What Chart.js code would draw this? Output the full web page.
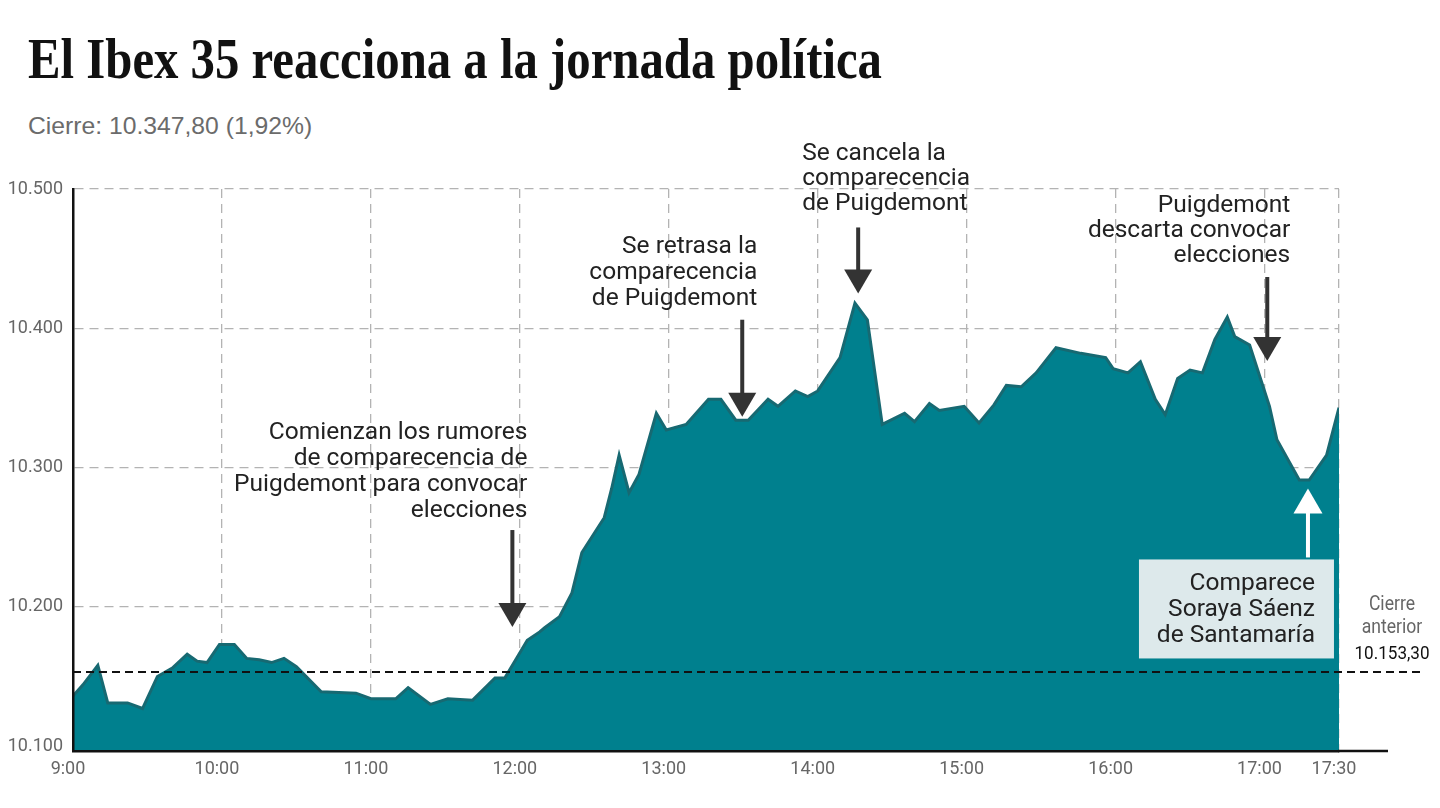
<!DOCTYPE html>
<html>
<head>
<meta charset="utf-8">
<script src="https://cdn.jsdelivr.net/npm/chart.js@4.4.1/dist/chart.umd.min.js"></script>
<style>
html, body { margin: 0; padding: 0; background: #fff; }
body { width: 1440px; height: 808px; position: relative; overflow: hidden; }
#chart { position: absolute; left: 0; top: 0; }
.title { position: absolute; left: 28px; top: 30px; font-family: "Liberation Serif", serif; font-weight: bold;
  font-size: 57px; line-height: 57px; color: #111; white-space: nowrap; transform-origin: 0 0; }
.sub { position: absolute; left: 28px; top: 114px; font-family: "Liberation Sans", Arial, sans-serif;
  font-size: 24px; line-height: 24px; color: #6b6b6b; white-space: nowrap; transform-origin: 0 0; }
</style>
</head>
<body>
<div class="title" id="title">El Ibex 35 reacciona a la jornada política</div>
<div class="sub" id="sub">Cierre: 10.347,80 (1,92%)</div>
<canvas id="chart" width="1440" height="808"></canvas>
<script>
// Ibex 35 intraday (minutes since midnight, index points)
const times = [540, 544, 550, 554, 562, 568, 574, 580, 586, 590, 594, 599, 605, 610, 615, 620, 625, 630, 640, 654,
  660, 670, 675, 684, 691, 701, 710, 714, 719, 723, 728, 730, 736, 741, 745, 754, 757, 760, 764, 768,
  775, 779, 787, 796, 801, 807, 812, 820, 824, 831, 836, 840, 849, 855, 860, 866, 875, 879, 885, 889,
  899, 905, 911, 916, 922, 928, 936, 946, 956, 959, 965, 970, 976, 980, 985, 990, 995, 1000, 1005, 1008,
  1014, 1022, 1025, 1034, 1038, 1045, 1050];
const values = [10136, 10144, 10158, 10131, 10131, 10127, 10150, 10156, 10166, 10161, 10160, 10173, 10173, 10163, 10162, 10160, 10163, 10157, 10139, 10138,
  10134, 10134, 10142, 10130, 10134, 10133, 10149, 10149, 10164, 10176, 10182, 10185, 10193, 10210, 10239, 10264, 10285, 10309, 10282, 10295,
  10339, 10327, 10331, 10349, 10349, 10334, 10334, 10349, 10344, 10355, 10351, 10355, 10379, 10418, 10406, 10331, 10339, 10333, 10346, 10341,
  10344, 10332, 10345, 10359, 10358, 10368, 10386, 10382, 10379, 10371, 10368, 10376, 10349, 10338, 10364, 10370, 10368, 10392, 10408, 10394,
  10388, 10344, 10320, 10291, 10291, 10309, 10343];

const prevClose = 10153.3;

const xTicks = [540, 600, 660, 720, 780, 840, 900, 960, 1020, 1050];
const xTickLabels = ['9:00', '10:00', '11:00', '12:00', '13:00', '14:00', '15:00', '16:00', '17:00', '17:30'];
const yTicks = [10100, 10200, 10300, 10400, 10500];
const yTickLabels = ['10.100', '10.200', '10.300', '10.400', '10.500'];

// events: arrow tip at (time, value)
const events = [
  { t: 717, v: 10185.5, dir: 'down', len: 97, align: 'right', dx: 15, dy: [-188, -162, -136, -110],
    lines: ['Comienzan los rumores', 'de comparecencia de', 'Puigdemont para convocar', 'elecciones'] },
  { t: 809.6, v: 10336.5, dir: 'down', len: 97, align: 'right', dx: 15, dy: [-164, -138, -112],
    lines: ['Se retrasa la', 'comparecencia', 'de Puigdemont'] },
  { t: 856.3, v: 10425, dir: 'down', len: 66, align: 'left', dx: -56, dy: [-133, -108, -83],
    lines: ['Se cancela la', 'comparecencia', 'de Puigdemont'] },
  { t: 1021.1, v: 10376.5, dir: 'down', len: 84, align: 'right', dx: 23, dy: [-149, -124, -99],
    lines: ['Puigdemont', 'descarta convocar', 'elecciones'] },
  { t: 1037.5, v: 10285, dir: 'up', len: 69, align: 'right', dx: 7, dy: [102, 128, 154], box: true,
    lines: ['Comparece', 'Soraya Sáenz', 'de Santamaría'] }
];

function fit(el, w) {
  el.style.transform = 'scaleX(' + (w / el.offsetWidth) + ')';
}
fit(document.getElementById('title'), 854);
fit(document.getElementById('sub'), 284);

function squeezeText(c, str, x, y, align, font, color, sx) {
  c.save();
  c.translate(x, y);
  c.scale(sx, 1);
  c.font = font;
  c.fillStyle = color;
  c.textAlign = align;
  c.textBaseline = 'alphabetic';
  c.fillText(str, 0, 0);
  c.restore();
}

const overlay = {
  id: 'overlay',
  afterDraw(chart) {
    const c = chart.ctx, xs = chart.scales.x, ys = chart.scales.y, area = chart.chartArea;
    c.save();

    // x axis runs a bit past the last tick
    c.strokeStyle = '#111';
    c.lineWidth = 2.5;
    c.beginPath();
    c.moveTo(area.right - 1, area.bottom);
    c.lineTo(area.right + 49, area.bottom);
    c.stroke();

    // previous close
    const yc = ys.getPixelForValue(prevClose);
    c.setLineDash([8, 5]);
    c.lineWidth = 2;
    c.beginPath();
    c.moveTo(area.left, yc);
    c.lineTo(area.right + 86, yc);
    c.stroke();
    c.setLineDash([]);
    squeezeText(c, 'Cierre', area.right + 53, yc - 62, 'center', '20px Roboto', '#666', 0.88);
    squeezeText(c, 'anterior', area.right + 53, yc - 39, 'center', '20px Roboto', '#666', 0.88);
    squeezeText(c, '10.153,30', area.right + 53, yc - 13, 'center', '18px Roboto', '#111', 0.95);

    events.forEach(e => {
      const x = xs.getPixelForValue(e.t), y = ys.getPixelForValue(e.v);
      if (e.box) {
        c.fillStyle = '#dde9eb';
        c.fillRect(x - 169, y + 71, 195, 99);
      }
      c.fillStyle = e.box ? '#fff' : '#333';
      c.beginPath();
      if (e.dir === 'down') {
        c.fillRect(x - 2, y - e.len, 4, e.len - 20);
        c.moveTo(x - 14, y - 24);
        c.lineTo(x + 14, y - 24);
        c.lineTo(x, y);
      } else {
        c.fillRect(x - 2, y + 20, 4, e.len - 20);
        c.moveTo(x - 14.5, y + 25);
        c.lineTo(x + 14.5, y + 25);
        c.lineTo(x, y);
      }
      c.closePath();
      c.fill();
      e.lines.forEach((s, i) => {
        squeezeText(c, s, x + e.dx, y + e.dy[i], e.align, '24.5px Roboto', '#222', 1);
      });
    });
    c.restore();
  }
};

const gridColor = c => c.index === 0 ? 'rgba(0,0,0,0)' : '#b3b3b3';

const ctx = document.getElementById('chart').getContext('2d');
const ibexChart = new Chart(ctx, {
  type: 'line',
  data: {
    datasets: [{
      label: 'Ibex 35',
      data: times.map((t, i) => ({ x: t, y: values[i] })),
      fill: 'start',
      backgroundColor: '#00808e',
      borderColor: '#176972',
      borderWidth: 3,
      pointRadius: 0,
      tension: 0
    }]
  },
  options: {
    responsive: false,
    animation: false,
    devicePixelRatio: 1,
    layout: { padding: { left: 0, right: 101, top: 189, bottom: 17 } },
    plugins: { legend: { display: false }, tooltip: { enabled: false } },
    scales: {
      x: {
        type: 'linear',
        min: 540,
        max: 1050,
        afterBuildTicks: s => { s.ticks = xTicks.map(v => ({ value: v })); },
        afterFit: s => { s.height = 40; },
        ticks: {
          callback: (v, i) => xTickLabels[i],
          color: '#666',
          font: { family: 'Roboto', size: 18 },
          padding: 8,
          maxRotation: 0,
          autoSkip: false,
          labelOffset: -5
        },
        grid: { color: gridColor, lineWidth: 1.3, drawTicks: false },
        border: { display: true, color: '#111', width: 2.5, dash: [9, 6], z: 1 }
      },
      y: {
        min: 10096.5,
        max: 10500,
        afterBuildTicks: s => { s.ticks = yTicks.map(v => ({ value: v })); },
        afterFit: s => { s.width = 73; },
        ticks: {
          callback: (v, i) => yTickLabels[i],
          color: '#666',
          font: { family: 'Roboto', size: 18 },
          padding: 10
        },
        grid: { color: gridColor, lineWidth: 1.3, drawTicks: false },
        border: { display: true, color: '#111', width: 2.5, dash: [9, 6], z: 1 }
      }
    }
  },
  plugins: [overlay]
});
</script>
</body>
</html>
